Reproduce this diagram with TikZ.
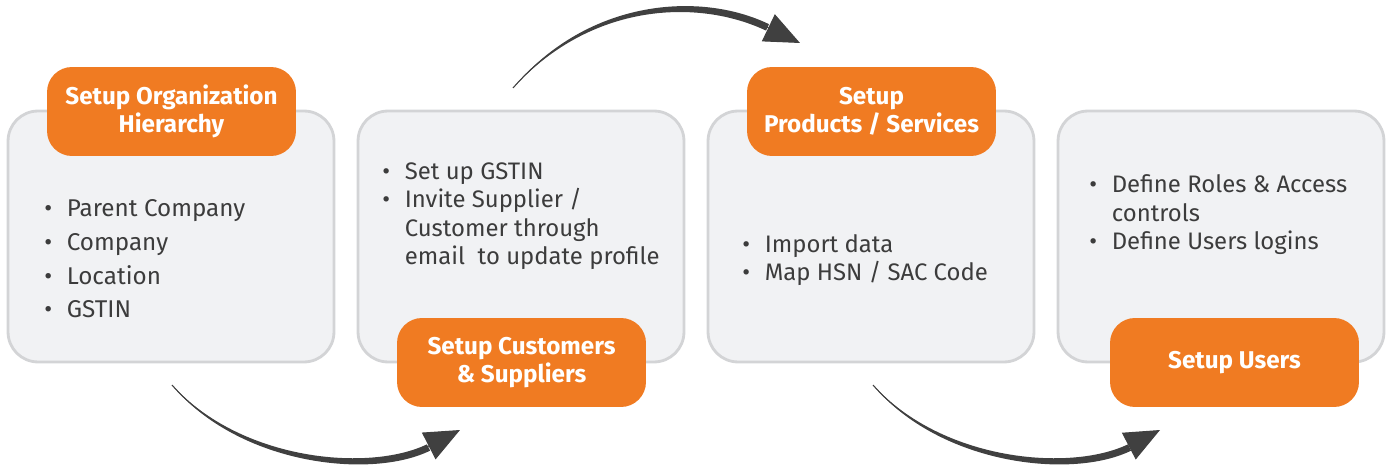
\documentclass[tikz,border=0pt]{standalone}
\usepackage{fontspec}
\setmainfont{Fira Sans}
\usetikzlibrary{arrows.meta}

\definecolor{cardfill}{HTML}{F1F2F4}
\definecolor{cardline}{HTML}{D3D4D6}
\definecolor{headfill}{HTML}{F07B22}
\definecolor{bodytext}{HTML}{3C3C3C}
\definecolor{flowline}{HTML}{404040}

\tikzstyle{card}=[minimum width = 6.52cm, minimum height = 5.02cm, rounded corners = 0.6cm,
  fill=cardfill, draw=cardline, line width=1.6pt]
\tikzstyle{head}=[minimum width = 4.98cm, minimum height = 1.78cm, rounded corners = 0.5cm,
  fill=headfill, text=white, align=center, font=\bfseries\fontsize{13.8}{16}\selectfont]
\tikzstyle{list}=[anchor=base west, inner sep=0pt, align=left, text=bodytext,
  font=\fontsize{13.6}{16.3}\selectfont]
\tikzstyle{flow}=[draw=flowline, line width=0.6pt, -{Triangle[length=20pt, width=17pt]}]
\tikzstyle{taper}=[fill=flowline]

\newcommand{\itm}{\makebox[12.8pt][l]{\textbullet}}
\newcommand{\ind}{\hspace*{12.8pt}}

\begin{document}
\begin{tikzpicture}[x=0.02cm, y=-0.02cm]
    \useasboundingbox (0,0) rectangle (1390,465);

    % grey cards
    \node[card] (c1) at (171, 236.5) {};
    \node[card] (c2) at (521, 236.5) {};
    \node[card] (c3) at (871, 236.5) {};
    \node[card] (c4) at (1221, 236.5) {};

    % card contents (placed at the baseline of the last line)
    \node[list, font=\fontsize{13.8}{19.2}\selectfont] (l1) at (44, 318)
      {\itm Parent Company\\ \itm Company\\ \itm Location\\ \itm GSTIN};
    \node[list] (l2) at (382, 265)
      {\itm Set up GSTIN\\ \itm Invite Supplier /\\ \ind Customer through\\ \ind email\ \ to update profile};
    \node[list] (l3) at (742, 281)
      {\itm Import data\\ \itm Map HSN / SAC Code};
    \node[list] (l4) at (1089, 250)
      {\itm Define Roles \& Access\\ \ind controls\\ \itm Define Users logins};

    % orange headings
    \node[head] (h1) at (171.5, 111.5) {Setup Organization\\Hierarchy};
    \node[head] (h2) at (521.5, 362.5) {Setup Customers\\\& Suppliers};
    \node[head] (h3) at (871.5, 111.5) {Setup\\Products / Services};
    \node[head] (h4) at (1234.5, 362.5) {Setup Users};

    % arrows: thin path carries the tip, a filled band gives the taper
    \coordinate (a1) at (172, 385);
    \coordinate (b1) at (460, 430);
    \coordinate (a2) at (513, 88);
    \coordinate (b2) at (800, 43);
    \coordinate (a3) at (873, 385);
    \coordinate (b3) at (1160, 430);
    \draw[flow] (a1) .. controls (240, 463) and (370, 476) .. (b1);
    \draw[flow] (a2) .. controls (590, 0) and (700, -5) .. (b2);
    \draw[flow] (a3) .. controls (941, 463) and (1071, 476) .. (b3);
    \fill[taper] (a1) .. controls (238.1, 464.6) and (370.6, 480) .. (430.2, 450.6)
      -- (426.8, 444.4) .. controls (369.4, 472) and (241.9, 461.4) .. (a1);
    \fill[taper] (a2) .. controls (588.1, -1.6) and (700.8, -8.9) .. (769, 24.2)
      -- (766, 30.6) .. controls (699.2, -1.1) and (591.9, 1.6) .. (a2);
    \fill[taper] (a3) .. controls (939.1, 464.6) and (1071.6, 480) .. (1131.2, 450.6)
      -- (1127.8, 444.4) .. controls (1070.4, 472) and (942.9, 461.4) .. (a3);
\end{tikzpicture}
\end{document}
